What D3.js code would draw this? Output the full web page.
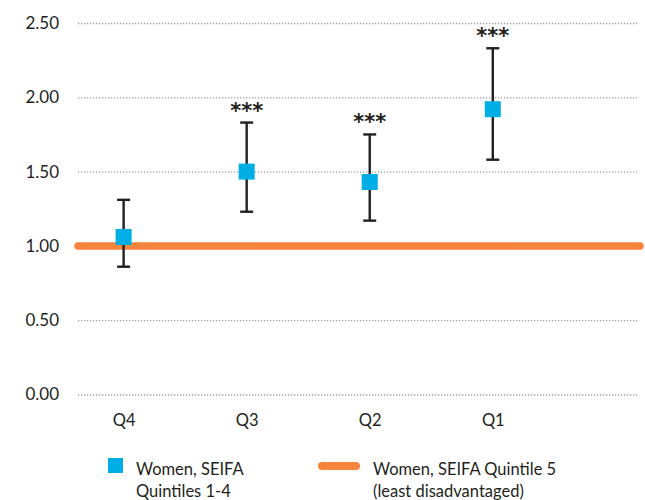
<!DOCTYPE html>
<html>
<head>
<meta charset="utf-8">
<script src="https://cdn.jsdelivr.net/npm/d3@7"></script>
<style>
  html, body { margin: 0; padding: 0; background: #fff; }
  svg { display: block; }
  text { font-family: "Lato", "Noto Sans", sans-serif; fill: #231f20; }
</style>
</head>
<body>
<svg id="chart" width="645" height="500"></svg>
<script>
// Odds ratios by SEIFA quintile, relative to Quintile 5 (reference = 1.00)
const categories = ["Q4", "Q3", "Q2", "Q1"];
const estimates  = [1.06, 1.50, 1.43, 1.92];
const lowerCI    = [0.86, 1.23, 1.17, 1.58];
const upperCI    = [1.31, 1.83, 1.75, 2.33];
const significance = ["", "***", "***", "***"];
const referenceValue = 1.00;
const yTicks = [0, 0.5, 1.0, 1.5, 2.0, 2.5];
const legendLabels = [
  ["Women, SEIFA", "Quintiles 1-4"],
  ["Women, SEIFA Quintile 5", "(least disadvantaged)"]
];

const blue = "#00aee6";
const orange = "#f5843d";
const ink = "#231f20";

const svg = d3.select("#chart");
const plot = { left: 78, right: 637, top: 23, bottom: 394.5 };

const y = d3.scaleLinear().domain([0, 2.5]).range([plot.bottom, plot.top]);
const plotW = plot.right - plot.left;
const x = d3.scalePoint()
  .domain(categories)
  .range([plot.left + plotW * 0.0816, plot.left + plotW * 0.742]);

// Y axis: dotted gridlines with labels
const yAxis = d3.axisLeft(y)
  .tickValues(yTicks)
  .tickFormat(d3.format(".2f"))
  .tickSize(-(plotW))
  .tickPadding(19);

const gy = svg.append("g")
  .attr("transform", `translate(${plot.left},0)`)
  .call(yAxis);
gy.select(".domain").remove();
gy.selectAll(".tick line")
  .attr("stroke", "#a0a0a0")
  .attr("stroke-width", 1.3)
  .attr("stroke-dasharray", "1.3,1.7");
gy.selectAll(".tick text")
  .attr("font-size", 17)
  .attr("fill", ink)
  .style("font-family", "Lato, 'Noto Sans', sans-serif");

// X axis labels
const xAxis = d3.axisBottom(x).tickSize(0).tickPadding(20);
const gx = svg.append("g")
  .attr("transform", `translate(0,${plot.bottom})`)
  .call(xAxis);
gx.select(".domain").remove();
gx.selectAll(".tick text")
  .attr("font-size", 16.5)
  .attr("fill", ink)
  .style("font-family", "Lato, 'Noto Sans', sans-serif");

// Reference line (Quintile 5)
svg.append("line")
  .attr("x1", plot.left)
  .attr("x2", plot.right + 3)
  .attr("y1", y(referenceValue))
  .attr("y2", y(referenceValue))
  .attr("stroke", orange)
  .attr("stroke-width", 7.5)
  .attr("stroke-linecap", "round");

const data = categories.map((c, i) => ({
  cat: c, est: estimates[i], lo: lowerCI[i], hi: upperCI[i], sig: significance[i]
}));

// Confidence intervals
const capHalf = 6.5;
const eb = svg.append("g").attr("stroke", ink).attr("stroke-width", 2.4);
eb.selectAll(".stem").data(data).join("line")
  .attr("x1", d => x(d.cat)).attr("x2", d => x(d.cat))
  .attr("y1", d => y(d.hi)).attr("y2", d => y(d.lo));
eb.selectAll(".capTop").data(data).join("line")
  .attr("x1", d => x(d.cat) - capHalf).attr("x2", d => x(d.cat) + capHalf)
  .attr("y1", d => y(d.hi)).attr("y2", d => y(d.hi));
eb.selectAll(".capBot").data(data).join("line")
  .attr("x1", d => x(d.cat) - capHalf).attr("x2", d => x(d.cat) + capHalf)
  .attr("y1", d => y(d.lo)).attr("y2", d => y(d.lo));

// Point estimates
const sq = 16;
svg.append("g").selectAll("rect").data(data).join("rect")
  .attr("x", d => x(d.cat) - sq / 2)
  .attr("y", d => y(d.est) - sq / 2)
  .attr("width", sq).attr("height", sq)
  .attr("fill", blue);

// Significance markers
svg.append("g").selectAll("text").data(data.filter(d => d.sig)).join("text")
  .attr("x", d => x(d.cat))
  .attr("y", d => y(d.hi) - 5)
  .attr("text-anchor", "middle")
  .attr("font-size", 21)
  .attr("font-weight", "bold")
  .style("font-family", "'DejaVu Sans', sans-serif")
  .text(d => d.sig);

// Legend
const lg = svg.append("g");
lg.append("rect")
  .attr("x", 108).attr("y", 458).attr("width", 15).attr("height", 15)
  .attr("fill", blue);
const t1 = lg.append("text").attr("x", 136).attr("y", 475).attr("font-size", 16.5);
t1.append("tspan").attr("x", 136).text(legendLabels[0][0]);
t1.append("tspan").attr("x", 136).attr("dy", 22).text(legendLabels[0][1]);

lg.append("line")
  .attr("x1", 322).attr("x2", 356).attr("y1", 466).attr("y2", 466)
  .attr("stroke", orange).attr("stroke-width", 8).attr("stroke-linecap", "round");
const t2 = lg.append("text").attr("x", 373).attr("y", 475).attr("font-size", 16.5);
t2.append("tspan").attr("x", 373).text(legendLabels[1][0]);
t2.append("tspan").attr("x", 373).attr("dy", 22).text(legendLabels[1][1]);
</script>
</body>
</html>
